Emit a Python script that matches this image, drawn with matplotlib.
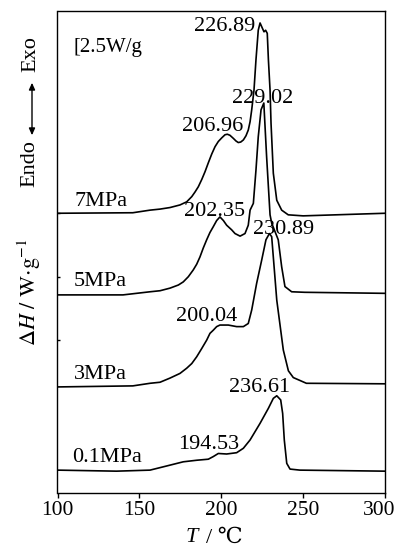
import matplotlib
matplotlib.use('Agg')
import matplotlib.pyplot as plt
import matplotlib.transforms as mtransforms

plt.rcParams['font.family'] = ['Liberation Serif', 'DejaVu Serif', 'Noto Sans CJK SC']
plt.rcParams['mathtext.fontset'] = 'stix'

# DSC curves (T in C, heat flow in W/g incl. stacking offset)
t_7 = [100, 146, 156.5, 162.6, 168.7, 174.8, 178.9, 182.0, 184.0, 186.0, 188.1, 190.1,
       192.1, 194.2, 196.2, 198.2, 200.3, 202.3, 203.7, 205.3, 207.4, 209.0, 210.4, 211.9,
       213.5, 215.1, 216.5, 217.6, 218.6, 220, 221.2, 222.6, 223.7, 225.1, 226.1, 227.1,
       228.1, 228.8, 229.8, 230.4, 231.8, 233.9, 236.9, 240.9, 250, 270, 300]
h_7 = [53.8, 53.9, 54.4, 54.6, 54.9, 55.4, 56.0, 57.0, 57.9, 58.9, 60.3, 61.8,
       63.5, 65.2, 66.6, 67.6, 68.3, 68.9, 69.0, 68.8, 68.2, 67.7, 67.4, 67.5,
       67.9, 68.7, 69.8, 71.4, 73.7, 77.5, 83.3, 89.0, 90.4, 89.4, 88.7, 89.0,
       88.4, 83.3, 77.5, 71.1, 61.5, 56.3, 54.4, 53.5, 53.3, 53.5, 53.8]

t_5 = [100, 140, 156.5, 162.6, 168.7, 173.8, 176.8, 179.9, 182.9, 185.0, 187.0, 189.0,
       191.1, 193.1, 195.1, 197.2, 199.2, 201.3, 203.3, 206.4, 208.4, 211.5, 214.5, 216.5,
       217.6, 219.6, 221.2, 222.6, 224.3, 226, 227.7, 229.8, 230.8, 234.8, 236.9, 238.9,
       243, 251, 300]
h_5 = [38.1, 38.1, 38.7, 38.9, 39.4, 40.0, 40.6, 41.6, 42.9, 44.0, 45.4, 47.1,
       48.7, 50.1, 51.2, 52.4, 53.1, 52.4, 51.5, 50.6, 49.9, 49.4, 49.9, 51.5,
       54.4, 55.7, 62.1, 68.5, 73.7, 75.0, 64.7, 53.5, 51.9, 48.7, 43.5, 39.7,
       38.7, 38.6, 38.4]

t_3 = [100, 146, 156.5, 162.6, 168.7, 174.8, 178.9, 182.0, 185, 188.1, 191.1, 193.1,
       195.1, 197.2, 199.2, 204.3, 209.4, 213.5, 216.5, 218.6, 221.6, 224.7, 227.3, 229.4,
       230.8, 233.9, 237.9, 241, 244, 252, 300]
h_3 = [20.4, 20.6, 21.1, 21.3, 22.1, 23.0, 24.0, 24.9, 26.2, 27.8, 29.4, 30.7,
       31.3, 32.0, 32.3, 32.3, 32.0, 32.0, 32.6, 35.2, 40.3, 44.8, 48.7, 49.9,
       49.3, 37.1, 27.5, 23.5, 22.2, 21.1, 21.0]

t_01 = [100, 136, 156.5, 166.7, 176.8, 185, 192.1, 195.1, 198.2, 203.3, 209.4, 213.5,
        217.6, 223.7, 228.8, 231.8, 233.9, 236.3, 237.5, 238.5, 240, 242, 248, 300]
h_01 = [4.4, 4.2, 4.4, 5.2, 6.0, 6.3, 6.5, 7.0, 7.6, 7.5, 7.75, 8.6,
        10.2, 13.4, 16.3, 18.2, 18.7, 17.9, 15.3, 10.2, 5.7, 4.6, 4.4, 4.2]

# text labels: (text, T, heat flow)
peak_labels = [('226.89', 183.4, 88.8), ('229.02', 206.6, 75.0), ('206.96', 176.0, 69.6),
               ('202.35', 177.3, 53.3), ('230.89', 219.4, 49.8), ('200.04', 172.4, 33.1),
               ('236.61', 204.7, 19.4), ('194.53', 173.6, 8.5)]
curve_labels = [('7MPa', 110.1, 55.2), ('5MPa', 110.1, 39.8), ('3MPa', 110.1, 21.9),
                ('0.1MPa', 108.9, 6.0)]
x_ticks = [100, 150, 200, 250, 300]

fig = plt.figure(figsize=(3.98, 5.48), dpi=100)
ax = fig.add_axes([57.5/398, 55/548, 327.5/398, 482/548])

for t, h in [(t_7, h_7), (t_5, h_5), (t_3, h_3), (t_01, h_01)]:
    ax.plot(t, h, color='black', lw=1.2)

for s, x, y in peak_labels + curve_labels:
    ax.text(x, y, s, fontsize=16, ha='left', va='baseline')
ax.text(109.5, 84.8, '[2.5W/g', fontsize=15, ha='left', va='baseline')

ax.set_xlim(100, 300)
ax.set_ylim(0, 92.7)
ax.set_xticks(x_ticks)
ax.set_xticklabels([str(v) for v in x_ticks], fontsize=15.5)
ax.tick_params(axis='x', direction='out', length=3.5, width=1, pad=2)
# last label sits a little left, as in the original
last = ax.get_xticklabels()[-1]
last.set_transform(last.get_transform() + mtransforms.ScaledTranslation(-6/100, 0, fig.dpi_scale_trans))
ax.set_yticks([29.4, 41.5, 53.8])
ax.set_yticklabels([])
ax.tick_params(axis='y', direction='in', length=2.5, width=1)
for sp in ax.spines.values():
    sp.set_linewidth(1)

# axis titles
fig.text(192/398, 1 - 538/548, 'T', fontsize=16, style='italic', ha='center', va='center')
fig.text(206/398, 1 - 538/548, '/ ℃', fontsize=16, ha='left', va='center')
fig.text(29/398, 1 - 292/548, r'$\Delta \mathit{H}\ /\ \mathrm{W\!\cdot\! g^{-1}}$',
         fontsize=16, rotation=90, ha='center', va='center')
fig.text(30/398, 1 - 164/548, 'Endo', fontsize=16, rotation=90, ha='center', va='center')
fig.text(31/398, 1 - 54/548, 'Exo', fontsize=16, rotation=90, ha='center', va='center')
fig.add_artist(matplotlib.patches.FancyArrowPatch(
    (32/398, 1 - 138/548), (32/398, 1 - 80/548), transform=fig.transFigure,
    arrowstyle='<|-|>,head_length=4,head_width=1.8', color='black', lw=1))

fig.savefig('out.png', dpi=100)
